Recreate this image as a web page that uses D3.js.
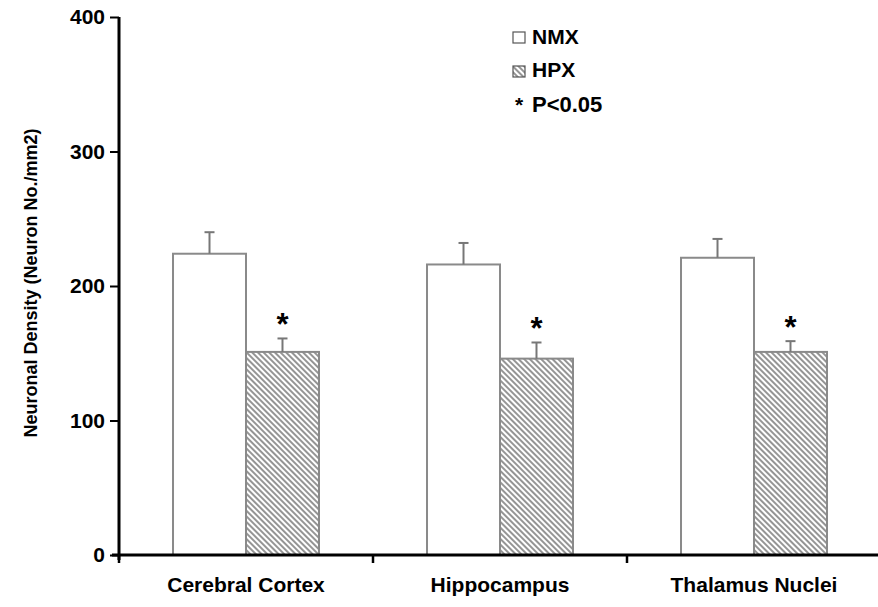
<!DOCTYPE html>
<html>
<head>
<meta charset="utf-8">
<script src="https://cdn.jsdelivr.net/npm/d3@7"></script>
<style>
  body { margin: 0; background: #fff; }
  text { font-family: "Liberation Sans", Arial, sans-serif; font-weight: bold; }
</style>
</head>
<body>
<script>
var regions = ["Cerebral Cortex", "Hippocampus", "Thalamus Nuclei"];
var groups = ["NMX", "HPX"];
var nmx = [224, 216, 221];
var nmxErr = [16, 16, 14];
var hpx = [151, 146, 151];
var hpxErr = [10, 12, 8];
var yTicks = [0, 100, 200, 300, 400];

var svg = d3.select("body")
    .append("svg")
    .attr("width", 878)
    .attr("height", 607)
    .style("display", "block");

var defs = svg.append("defs");
var pat = defs.append("pattern")
    .attr("id", "hatch")
    .attr("patternUnits", "userSpaceOnUse")
    .attr("width", 4)
    .attr("height", 4)
    .attr("patternTransform", "rotate(-45)");
pat.append("rect").attr("width", 4).attr("height", 4).attr("fill", "#fff");
pat.append("line")
    .attr("x1", 1).attr("y1", 0)
    .attr("x2", 1).attr("y2", 4)
    .attr("stroke", "#7a7a7a")
    .attr("stroke-width", 1.6);

var y = d3.scaleLinear().domain([0, 400]).range([555, 17]);
var x = d3.scaleBand().domain(regions).range([119, 881]);
var xs = d3.scaleBand().domain(groups).range([0, x.bandwidth()]).paddingOuter(0.74);

var data = regions.map(function(r, i) {
  return [
    {region: r, group: "NMX", value: nmx[i], err: nmxErr[i]},
    {region: r, group: "HPX", value: hpx[i], err: hpxErr[i]}
  ];
});

var g = svg.selectAll("g.region")
    .data(data)
    .enter().append("g")
    .attr("class", "region")
    .attr("transform", function(d) { return "translate(" + x(d[0].region) + ",0)"; });

g.selectAll("rect")
    .data(function(d) { return d; })
    .enter().append("rect")
    .attr("x", function(d) { return xs(d.group); })
    .attr("y", function(d) { return y(d.value); })
    .attr("width", xs.bandwidth())
    .attr("height", function(d) { return y(0) - y(d.value); })
    .attr("fill", function(d) { return d.group == "HPX" ? "url(#hatch)" : "#fff"; })
    .attr("stroke", "#8a8a8a")
    .attr("stroke-width", 2);

// error bars (upper only)
g.selectAll("line.err")
    .data(function(d) { return d; })
    .enter().append("line")
    .attr("class", "err")
    .attr("x1", function(d) { return xs(d.group) + xs.bandwidth() / 2; })
    .attr("x2", function(d) { return xs(d.group) + xs.bandwidth() / 2; })
    .attr("y1", function(d) { return y(d.value); })
    .attr("y2", function(d) { return y(d.value + d.err); })
    .attr("stroke", "#777")
    .attr("stroke-width", 2);

g.selectAll("line.cap")
    .data(function(d) { return d; })
    .enter().append("line")
    .attr("class", "cap")
    .attr("x1", function(d) { return xs(d.group) + xs.bandwidth() / 2 - 5; })
    .attr("x2", function(d) { return xs(d.group) + xs.bandwidth() / 2 + 5; })
    .attr("y1", function(d) { return y(d.value + d.err); })
    .attr("y2", function(d) { return y(d.value + d.err); })
    .attr("stroke", "#777")
    .attr("stroke-width", 2);

// significance stars
g.append("text")
    .attr("x", xs("HPX") + xs.bandwidth() / 2)
    .attr("y", function(d) { return y(d[1].value + d[1].err) - 3; })
    .attr("text-anchor", "middle")
    .attr("font-size", "31px")
    .text("*");

// y axis
var yAxis = d3.axisLeft(y).tickValues(yTicks).tickSize(9).tickPadding(5);
var ya = svg.append("g")
    .attr("transform", "translate(119,0)")
    .call(yAxis);
ya.select(".domain").attr("stroke-width", 3).attr("d", "M0,17V560");
ya.selectAll(".tick line").attr("stroke-width", 2);
ya.selectAll(".tick text")
    .attr("font-size", "21px")
    .attr("font-family", "Liberation Sans, Arial, sans-serif")
    .attr("font-weight", "bold")
    .attr("fill", "#000");

// x axis
svg.append("line")
    .attr("x1", 112).attr("x2", 878)
    .attr("y1", y(0)).attr("y2", y(0))
    .attr("stroke", "#000")
    .attr("stroke-width", 3);

svg.selectAll("line.xtick")
    .data(regions)
    .enter().append("line")
    .attr("class", "xtick")
    .attr("x1", function(d) { return x(d); })
    .attr("x2", function(d) { return x(d); })
    .attr("y1", y(0))
    .attr("y2", y(0) + 8)
    .attr("stroke", "#000")
    .attr("stroke-width", 2.5);

svg.selectAll("text.xlab")
    .data(regions)
    .enter().append("text")
    .attr("class", "xlab")
    .attr("x", function(d) { return x(d) + x.bandwidth() / 2; })
    .attr("y", 592)
    .attr("text-anchor", "middle")
    .attr("font-size", "21px")
    .text(function(d) { return d; });

svg.append("text")
    .attr("transform", "translate(37,283) rotate(-90)")
    .attr("text-anchor", "middle")
    .attr("font-size", "18px")
    .text("Neuronal Density (Neuron No./mm2)");

// legend
var leg = svg.append("g").attr("transform", "translate(513,0)");
leg.selectAll("rect")
    .data(groups)
    .enter().append("rect")
    .attr("x", 0)
    .attr("y", function(d, i) { return 32 + i * 34; })
    .attr("width", 12)
    .attr("height", 11)
    .attr("fill", function(d) { return d == "HPX" ? "url(#hatch)" : "#fff"; })
    .attr("stroke", "#555")
    .attr("stroke-width", 1.2);
leg.selectAll("text.lg")
    .data(groups)
    .enter().append("text")
    .attr("class", "lg")
    .attr("x", 19)
    .attr("y", function(d, i) { return 44 + i * 33; })
    .attr("font-size", "21px")
    .text(function(d) { return d; });
leg.append("text")
    .attr("x", 2)
    .attr("y", 112)
    .attr("font-size", "21px")
    .text("*");
leg.append("text")
    .attr("x", 19)
    .attr("y", 112)
    .attr("font-size", "22px")
    .text("P<0.05");
</script>
</body>
</html>
